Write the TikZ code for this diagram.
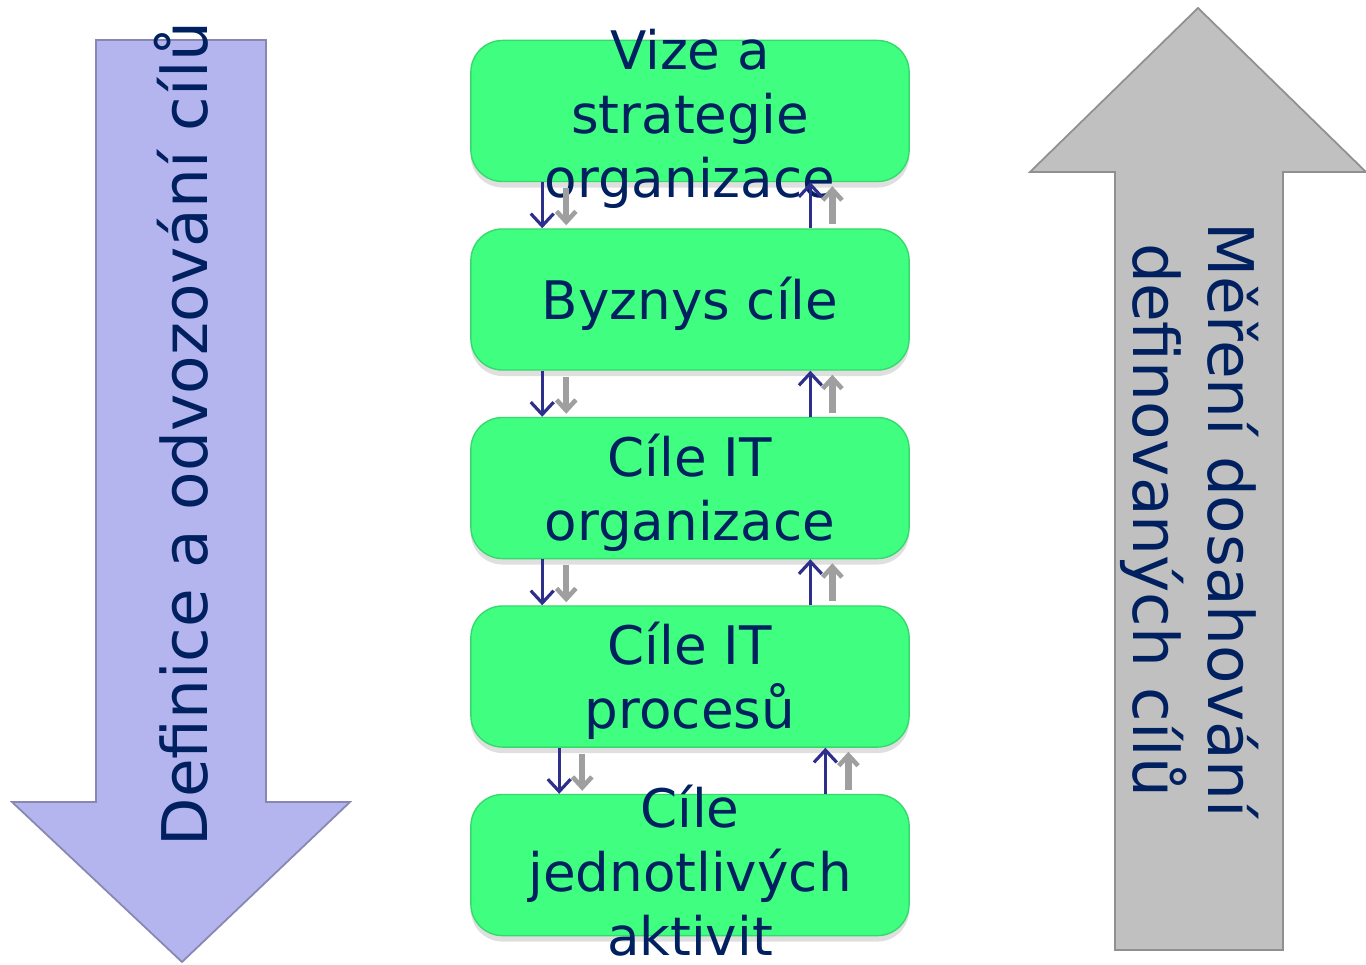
\documentclass[tikz,border=0pt]{standalone}
\usepackage{fontspec}
\setmainfont{DejaVu Sans}
\usepackage{xcolor}
\usetikzlibrary{positioning, arrows.meta, shadows}

\definecolor{boxgreen}{RGB}{64,255,128}
\definecolor{textnavy}{RGB}{0,32,96}
\definecolor{arrownavy}{RGB}{46,46,140}
\definecolor{downblue}{RGB}{180,180,238}
\definecolor{upgray}{RGB}{192,192,192}

\tikzset{
    goalbox/.style={rectangle, rounded corners=9pt, fill=boxgreen, draw=boxgreen!85!black, line width=0.4pt,
        minimum width=4.38cm, minimum height=1.41cm, inner sep=0pt,
        drop shadow={opacity=0.25, shadow xshift=0pt, shadow yshift=-0.6mm}},
    goaltext/.style={text=textnavy, align=center, font=\fontsize{15.1}{18.2}\selectfont},
    sidetext/.style={text=textnavy, align=center, font=\fontsize{17.9}{21.3}\selectfont},
    navyarrow/.style={draw=arrownavy, line width=0.9pt, -{Straight Barb[length=3.5pt, width=6.5pt, line width=0.9pt]}},
    grayarrow/.style={draw=gray!75, line width=1.8pt, -{Straight Barb[length=3pt, width=5.5pt, line width=1.3pt]}}
}

\begin{document}
\begin{tikzpicture}[x=0.01cm, y=-0.01cm]
        \useasboundingbox (0,0) rectangle (1366,965);

        % big side arrows
        \draw[fill=downblue, draw=downblue!75!black, line width=0.5pt]
            (96,40) -- (266,40) -- (266,802) -- (350,802) -- (182,962) -- (12,802) -- (96,802) -- cycle;
        \draw[fill=upgray, draw=upgray!75!black, line width=0.5pt]
            (1115,950) -- (1115,172) -- (1030,172) -- (1198,8) -- (1366,172) -- (1283,172) -- (1283,950) -- cycle;

        \node[sidetext, rotate=90] (down) at (181,434) {Definice a odvozování cílů};
        \node[sidetext, rotate=-90] (up) at (1190,520) {Měření dosahování\\definovaných cílů};

        % goal boxes
        \node[goalbox] (vision) at (690,111) {};
        \node[goalbox, below=0.46cm of vision] (business) {};
        \node[goalbox, below=0.46cm of business] (itorg) {};
        \node[goalbox, below=0.46cm of itorg] (itproc) {};
        \node[goalbox, below=0.46cm of itproc] (activity) {};

        \node[goaltext] (visiontext) at ([yshift=-0.08cm]vision.center) {Vize a\\strategie\\organizace};
        \node[goaltext] (businesstext) at ([yshift=-0.04cm]business.center) {Byznys cíle};
        \node[goaltext] (itorgtext) at ([yshift=-0.05cm]itorg.center) {Cíle IT\\organizace};
        \node[goaltext] (itproctext) at ([yshift=-0.04cm]itproc.center) {Cíle IT\\procesů};
        \node[goaltext] (activitytext) at ([yshift=-0.06cm]activity.center) {Cíle\\jednotlivých\\aktivit};

        % small arrows between the boxes
        \draw[grayarrow] ([xshift=0.96cm, yshift=-0.06cm]vision.south west) to ([xshift=0.96cm, yshift=0.03cm]business.north west);
        \draw[grayarrow] ([xshift=3.62cm, yshift=0.04cm]business.north west) to ([xshift=3.62cm, yshift=-0.04cm]vision.south west);
        \draw[grayarrow] ([xshift=0.96cm, yshift=-0.06cm]business.south west) to ([xshift=0.96cm, yshift=0.03cm]itorg.north west);
        \draw[grayarrow] ([xshift=3.62cm, yshift=0.04cm]itorg.north west) to ([xshift=3.62cm, yshift=-0.04cm]business.south west);
        \draw[grayarrow] ([xshift=0.96cm, yshift=-0.06cm]itorg.south west) to ([xshift=0.96cm, yshift=0.03cm]itproc.north west);
        \draw[grayarrow] ([xshift=3.62cm, yshift=0.04cm]itproc.north west) to ([xshift=3.62cm, yshift=-0.04cm]itorg.south west);
        \draw[grayarrow] ([xshift=1.12cm, yshift=-0.06cm]itproc.south west) to ([xshift=1.12cm, yshift=0.03cm]activity.north west);
        \draw[grayarrow] ([xshift=3.78cm, yshift=0.04cm]activity.north west) to ([xshift=3.78cm, yshift=-0.04cm]itproc.south west);

        \draw[navyarrow] ([xshift=0.72cm]vision.south west) to ([xshift=0.72cm]business.north west);
        \draw[navyarrow] ([xshift=3.40cm]business.north west) to ([xshift=3.40cm]vision.south west);
        \draw[navyarrow] ([xshift=0.72cm]business.south west) to ([xshift=0.72cm]itorg.north west);
        \draw[navyarrow] ([xshift=3.40cm]itorg.north west) to ([xshift=3.40cm]business.south west);
        \draw[navyarrow] ([xshift=0.72cm]itorg.south west) to ([xshift=0.72cm]itproc.north west);
        \draw[navyarrow] ([xshift=3.40cm]itproc.north west) to ([xshift=3.40cm]itorg.south west);
        \draw[navyarrow] ([xshift=0.89cm]itproc.south west) to ([xshift=0.89cm]activity.north west);
        \draw[navyarrow] ([xshift=3.55cm]activity.north west) to ([xshift=3.55cm]itproc.south west);
    \end{tikzpicture}
\end{document}
